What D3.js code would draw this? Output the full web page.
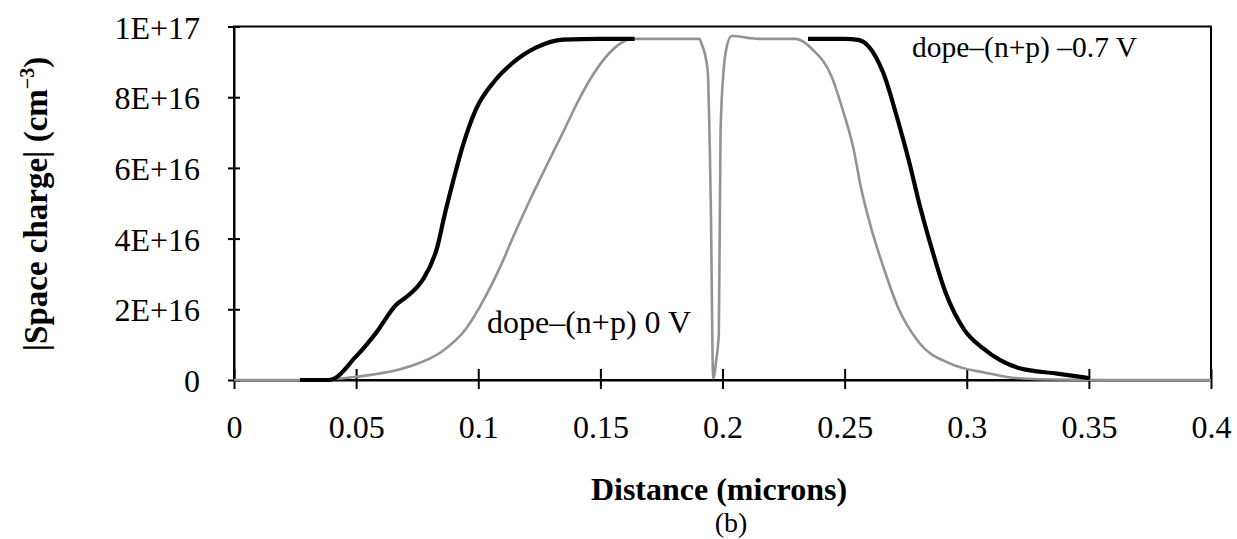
<!DOCTYPE html>
<html lang="en">
<head>
<meta charset="UTF-8">
<title>space charge</title>
<script src="https://cdn.jsdelivr.net/npm/d3@7"></script>
<style>
    body { margin: 0; background: #fff; }
    svg { display: block; }
    .tick text { font-family: "Liberation Serif", "Times New Roman", serif; font-size: 32px; fill: #000; }
    .lbl { font-family: "Liberation Serif", "Times New Roman", serif; fill: #000; }
</style>
</head>
<body>
<div id="chart"></div>
<script>
    // data (distance in microns, |space charge| in cm^-3)
    var zeroVDist   = [0, 0.03, 0.05, 0.0717, 0.085, 0.095, 0.1025, 0.109, 0.115, 0.1212, 0.1278, 0.1346, 0.1412, 0.1475, 0.1537, 0.163, 0.175, 0.1905, 0.1915, 0.1939, 0.1952, 0.1962, 0.1975, 0.1985, 0.1992, 0.2005, 0.2015, 0.2037, 0.215, 0.2300, 0.2369, 0.2447, 0.2492, 0.2537, 0.2566, 0.2607, 0.2658, 0.2717, 0.2807, 0.293, 0.308, 0.317, 0.33, 0.36, 0.4];
    var zeroVCharge = [0, 0, 0.09e16, 0.38e16, 0.8e16, 1.45e16, 2.3e16, 3.2e16, 4.16e16, 5.1e16, 6.04e16, 6.99e16, 7.93e16, 8.69e16, 9.25e16, 9.65e16, 9.65e16, 9.65e16, 9.5e16, 8.78e16, 5.0e16, 0.05e16, 0.6e16, 1.33e16, 7.0e16, 8.8e16, 9.35e16, 9.73e16, 9.65e16, 9.65e16, 9.35e16, 8.58e16, 7.65e16, 6.52e16, 5.47e16, 4.34e16, 3.21e16, 2.08e16, 1.04e16, 0.47e16, 0.2e16, 0.08e16, 0.02e16, 0, 0];

    var revDist   = [0.027, 0.039, 0.0499, 0.058, 0.0663, 0.0717, 0.0772, 0.0833, 0.0861, 0.0895, 0.0936, 0.099, 0.1072, 0.1141, 0.1236, 0.1346, 0.150, 0.164];
    var revCharge = [0, 0, 0.66e16, 1.32e16, 2.12e16, 2.41e16, 2.83e16, 3.78e16, 4.63e16, 5.57e16, 6.61e16, 7.65e16, 8.5e16, 8.97e16, 9.4e16, 9.63e16, 9.65e16, 9.65e16];
    var revDist2   = [0.235, 0.250, 0.2555, 0.2598, 0.2658, 0.2717, 0.2762, 0.2809, 0.2854, 0.2914, 0.299, 0.3066, 0.3217, 0.337, 0.3504];
    var revCharge2 = [9.65e16, 9.65e16, 9.62e16, 9.44e16, 8.69e16, 7.37e16, 6.23e16, 4.9e16, 3.78e16, 2.46e16, 1.42e16, 0.9e16, 0.33e16, 0.18e16, 0.05e16];

    var xTicks = [0, 0.05, 0.1, 0.15, 0.2, 0.25, 0.3, 0.35, 0.4];
    var yTicks = [0, 2e16, 4e16, 6e16, 8e16, 1e17];

    var W = 1237, H = 539;
    var plotL = 234, plotR = 1211, plotT = 26.5, plotB = 380;

    var svg = d3.select("#chart").append("svg")
        .attr("width", W)
        .attr("height", H);

    var x = d3.scaleLinear().domain([0, 0.4]).range([plotL, plotR]);
    var y = d3.scaleLinear().domain([0, 1e17]).range([plotB, plotT]);

    // frame
    svg.append("rect")
        .attr("x", plotL).attr("y", plotT)
        .attr("width", plotR - plotL).attr("height", plotB - plotT)
        .attr("fill", "none").attr("stroke", "#000").attr("stroke-width", 2);

    // axes, ticks cross the line
    var gx = svg.append("g")
        .attr("transform", "translate(0," + plotB + ")")
        .call(d3.axisBottom(x).tickValues(xTicks).tickSize(9).tickSizeOuter(0).tickPadding(26)
            .tickFormat(function (d) { return String(+d.toFixed(2)); }));
    gx.select(".domain").attr("stroke-width", 2);
    gx.selectAll(".tick line").attr("y1", -11).attr("stroke-width", 2);

    var gy = svg.append("g")
        .attr("transform", "translate(" + plotL + ",0)")
        .call(d3.axisLeft(y).tickValues(yTicks).tickSize(6).tickSizeOuter(0).tickPadding(28)
            .tickFormat(function (d) { return d === 0 ? "0" : d3.format(".0e")(d).replace("e", "E"); }));
    gy.select(".domain").attr("stroke-width", 2);
    gy.selectAll(".tick line").attr("x1", 6).attr("stroke-width", 2);
    gy.selectAll(".tick text").attr("dy", "0.36em");

    var line = d3.line()
        .x(function (d) { return x(d[0]); })
        .y(function (d) { return y(d[1]); })
        .curve(d3.curveMonotoneX);

    // 0 V curve (grey)
    svg.append("path")
        .datum(d3.zip(zeroVDist, zeroVCharge))
        .attr("d", line)
        .attr("fill", "none")
        .attr("stroke", "#939393")
        .attr("stroke-width", 2.6);

    // -0.7 V curve (black, two pieces)
    [d3.zip(revDist, revCharge), d3.zip(revDist2, revCharge2)].forEach(function (pts) {
        svg.append("path")
            .datum(pts)
            .attr("d", line)
            .attr("fill", "none")
            .attr("stroke", "#000")
            .attr("stroke-width", 4.2)
            .attr("stroke-linejoin", "round");
    });

    // curve labels
    svg.append("text").attr("class", "lbl")
        .attr("x", 487).attr("y", 333)
        .attr("font-size", 32)
        .text("dope\u2013(n+p) 0 V");
    svg.append("text").attr("class", "lbl")
        .attr("x", 912).attr("y", 57)
        .attr("font-size", 29.5)
        .text("dope\u2013(n+p) \u20130.7 V");

    // axis titles
    svg.append("text").attr("class", "lbl")
        .attr("x", 719).attr("y", 500)
        .attr("text-anchor", "middle")
        .attr("font-size", 32).attr("font-weight", "bold")
        .text("Distance (microns)");
    svg.append("text").attr("class", "lbl")
        .attr("x", 731).attr("y", 532)
        .attr("text-anchor", "middle")
        .attr("font-size", 28)
        .text("(b)");

    var yt = svg.append("text").attr("class", "lbl")
        .attr("transform", "translate(47,204) rotate(-90)")
        .attr("text-anchor", "middle")
        .attr("font-size", 33).attr("font-weight", "bold");
    yt.append("tspan").text("|Space charge|  (cm");
    yt.append("tspan").attr("font-size", 20).attr("dy", -13).text("\u22123");
    yt.append("tspan").attr("dy", 13).text(")");
</script>
</body>
</html>
